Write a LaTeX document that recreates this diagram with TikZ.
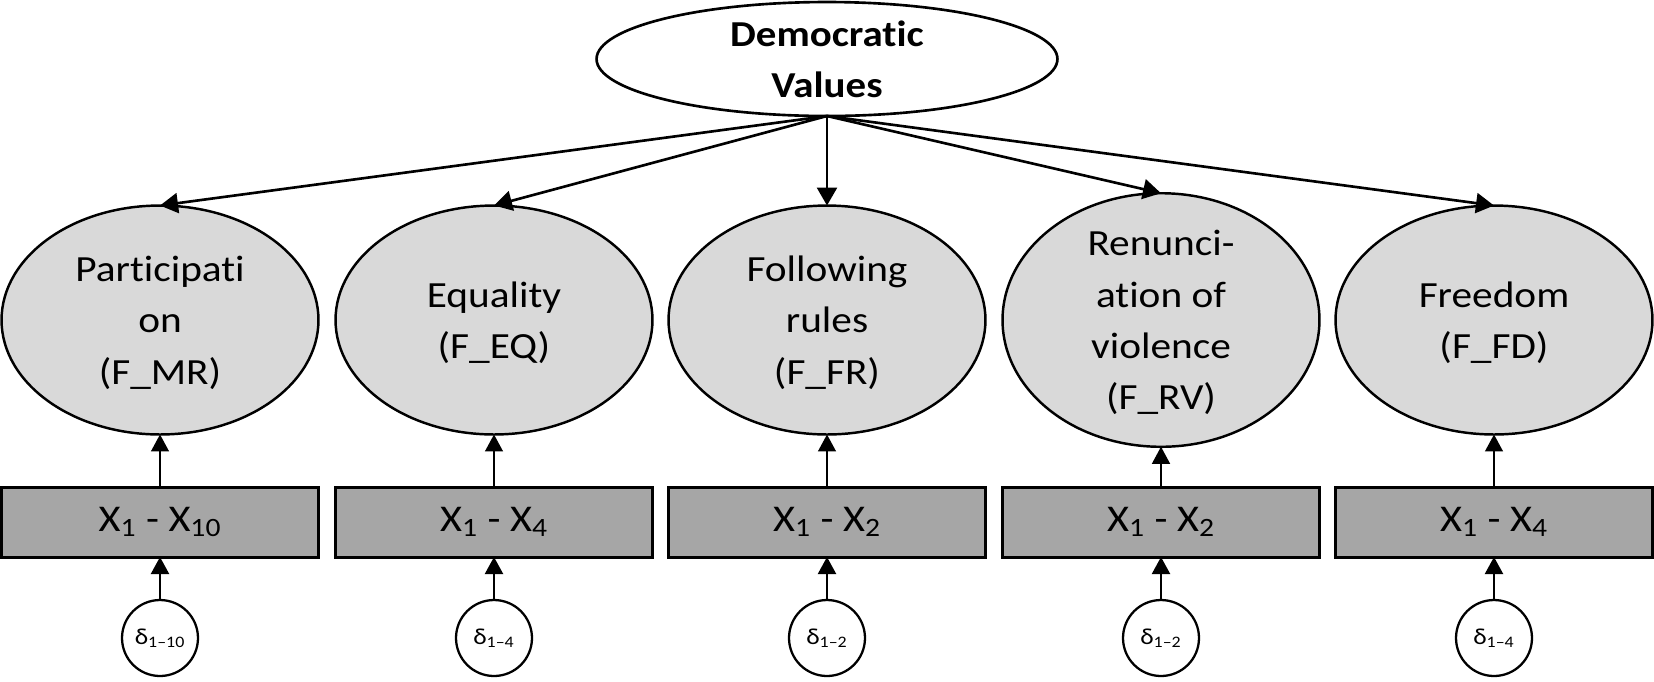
\documentclass[tikz,border=0pt]{standalone}
\usepackage{fontspec}
\setmainfont{Carlito}[Ligatures=CommonOff,FakeStretch=1.12]
\usetikzlibrary{arrows.meta,shapes.geometric}
\definecolor{factorgray}{RGB}{217,217,217}
\definecolor{itemgray}{RGB}{166,166,166}

\begin{document}
\begin{tikzpicture}[x=0.02cm,y=-0.02cm,
  every node/.style={outer sep=0pt, inner sep=0pt},
  top/.style={ellipse, draw, line width=1.5pt, fill=white, minimum width=9.22cm, minimum height=2.28cm, align=center, text depth=0pt, font=\bfseries\fontsize{20.8}{29}\selectfont},
  factor/.style={ellipse, draw, line width=1.4pt, fill=factorgray, minimum width=6.34cm, minimum height=4.58cm, align=center, text depth=0pt, font=\fontsize{21}{29.2}\selectfont},
  items/.style={rectangle, draw, line width=1.7pt, fill=itemgray, minimum width=6.34cm, minimum height=1.4cm, font=\fontsize{21.5}{26}\selectfont},
  err/.style={circle, draw, line width=1.3pt, fill=white, minimum size=1.52cm, font=\fontsize{13}{15}\selectfont},
  load/.style={-{Triangle[length=0.36cm,width=0.4cm]}, line width=1.5pt},
  meas/.style={-{Triangle[length=0.34cm,width=0.36cm]}, line width=0.8pt},
  resid/.style={-{Triangle[length=0.34cm,width=0.36cm]}, line width=1.2pt}]
\useasboundingbox (0,0) rectangle (1654,681);

\node[top] (dv) at (827,59) {Democratic\\Values};

\node[factor] (mr) at (160,320) {Participati\\on\\(F\_MR)};
\node[factor] (eq) at (494,320) {Equality\\(F\_EQ)};
\node[factor] (fr) at (827,320) {Following\\rules\\(F\_FR)};
\node[factor] (rv) at (1161,320) {Renunci-\\ation of\\violence\\(F\_RV)};
\node[factor] (fd) at (1494,320) {Freedom\\(F\_FD)};

\node[items] (xmr) at (160,522) {X\textsubscript{1} - X\textsubscript{10}};
\node[items] (xeq) at (494,522) {X\textsubscript{1} - X\textsubscript{4}};
\node[items] (xfr) at (827,522) {X\textsubscript{1} - X\textsubscript{2}};
\node[items] (xrv) at (1161,522) {X\textsubscript{1} - X\textsubscript{2}};
\node[items] (xfd) at (1494,522) {X\textsubscript{1} - X\textsubscript{4}};

\node[err] (dmr) at (160,638) {δ\textsubscript{1–10}};
\node[err] (deq) at (494,638) {δ\textsubscript{1–4}};
\node[err] (dfr) at (827,638) {δ\textsubscript{1–2}};
\node[err] (drv) at (1161,638) {δ\textsubscript{1–2}};
\node[err] (dfd) at (1494,638) {δ\textsubscript{1–4}};

\draw[load] (dv.south) -- (mr.north);
\draw[load] (dv.south) -- (eq.north);
\draw[load] (dv.south) -- (fr.north);
\draw[load] (dv.south) -- (rv.north);
\draw[load] (dv.south) -- (fd.north);

\draw[meas] (xmr) -- (mr);
\draw[meas] (xeq) -- (eq);
\draw[meas] (xfr) -- (fr);
\draw[meas] (xrv) -- (rv);
\draw[meas] (xfd) -- (fd);

\draw[resid] (dmr) -- (xmr);
\draw[resid] (deq) -- (xeq);
\draw[resid] (dfr) -- (xfr);
\draw[resid] (drv) -- (xrv);
\draw[resid] (dfd) -- (xfd);
\end{tikzpicture}
\end{document}
